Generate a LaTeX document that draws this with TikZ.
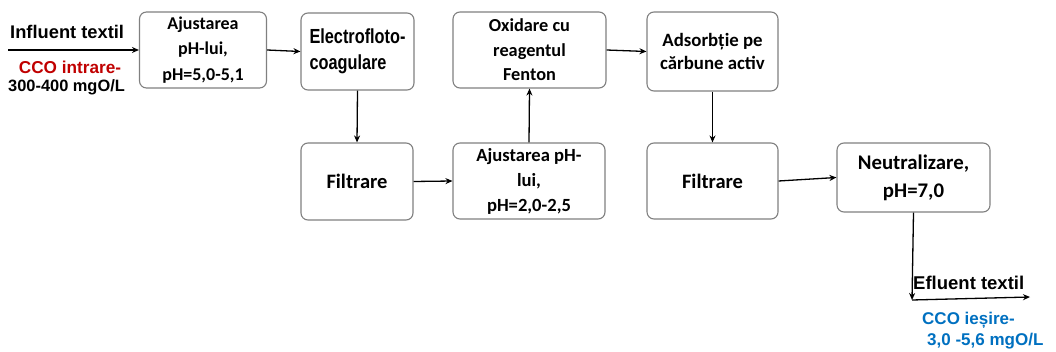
\documentclass[tikz,border=0pt]{standalone}
\usepackage{fontspec}
\usepackage{graphicx}
\newfontfamily\carl{Carlito}
\newfontfamily\lib{Liberation Sans}
\usetikzlibrary{arrows.meta}
\definecolor{boxgray}{HTML}{808080}
\definecolor{cred}{HTML}{C00000}
\definecolor{cblue}{HTML}{0070C0}
\tikzset{
 proc/.style={draw=boxgray, line width=1.1pt, rounded corners=7pt, fill=white, inner sep=0pt, align=center, text=black},
 arr/.style={line width=1.3pt, -{Stealth[length=7pt,width=6pt]}},
 lbl/.style={inner sep=0pt, font=\lib\bfseries\fontsize{17}{20}\selectfont},
}
\begin{document}
\begin{tikzpicture}[x=1pt,y=-1pt]
\useasboundingbox (0,0) rectangle (1056,352);
% boxes
\node[proc, minimum width=127pt, minimum height=76pt, font=\carl\bfseries\fontsize{18}{25.5}\selectfont] (b1) at (203,50) {\raisebox{-2pt}{Ajustarea}\\\raisebox{-2pt}{pH-lui,}\\\raisebox{-2pt}{pH=5,0-5,1}};
\node[proc, minimum width=113pt, minimum height=77pt, align=left, font=\lib\bfseries\fontsize{16.3}{26}\selectfont] (b2) at (357.5,51.5) {\raisebox{-2pt}{\scalebox{1}[1.25]{Electrofloto-}}\\\raisebox{-2pt}{\scalebox{1}[1.25]{coagulare}}};
\node[proc, minimum width=153pt, minimum height=76pt, font=\carl\bfseries\fontsize{18.3}{24.5}\selectfont] (b3) at (529.5,50) {Oxidare cu\\reagentul\\Fenton};
\node[proc, minimum width=131pt, minimum height=79pt, font=\carl\bfseries\fontsize{18.8}{22.5}\selectfont] (b4) at (712.5,51.5) {Adsorbție pe\\cărbune activ};
\node[proc, minimum width=112pt, minimum height=77pt, font=\carl\bfseries\fontsize{20.5}{24}\selectfont] (f1) at (357,181.5) {Filtrare};
\node[proc, minimum width=152pt, minimum height=76pt, font=\carl\bfseries\fontsize{18.6}{25}\selectfont] (a2) at (529,181) {Ajustarea pH-\\lui,\\pH=2,0-2,5};
\node[proc, minimum width=131pt, minimum height=76pt, font=\carl\bfseries\fontsize{20.5}{24}\selectfont] (f2) at (712.5,181) {Filtrare};
\node[proc, minimum width=153pt, minimum height=69pt, font=\carl\bfseries\fontsize{20.8}{28}\selectfont] (n) at (913.5,177.5) {Neutralizare,\\pH=7,0};
% labels
\node[lbl, anchor=west, font=\lib\bfseries\fontsize{18.3}{20}\selectfont] (inf) at (10,32) {Influent textil};
\node[lbl, text=cred, font=\lib\bfseries\fontsize{17.2}{20}\selectfont] (cin) at (70,67) {CCO intrare-};
\node[lbl, anchor=west, font=\lib\bfseries\fontsize{16.4}{20}\selectfont] (vin) at (8,87) {300-400 mgO/L};
\node[lbl, anchor=west, font=\lib\bfseries\fontsize{18.5}{20}\selectfont] (efl) at (913,283) {Efluent textil};
\node[lbl, anchor=west, text=cblue] (cout) at (922,320) {CCO ieșire-};
\node[lbl, anchor=west, text=cblue] (vout) at (927,341) {3,0 -5,6 mgO/L};
% connectors
\coordinate (start) at (8,50);
\coordinate (c1) at (912,300);
\coordinate (c2) at (1030,297);
\draw[arr] (start) -- (b1.west);
\draw[arr] (b1.east) -- (b2.west);
\draw[arr] (b2.south) -- (f1.north);
\draw[arr] (f1.east) -- (a2.west);
\draw[arr] (a2.north) -- (b3.south);
\draw[arr] (b3.east) -- (b4.west);
\draw[arr] (b4.south) -- (f2.north);
\draw[arr] (f2.east) -- (n.west);
\draw[arr] (n.south) -- (c1);
\draw[arr] (c1) -- (c2);
\end{tikzpicture}
\end{document}
